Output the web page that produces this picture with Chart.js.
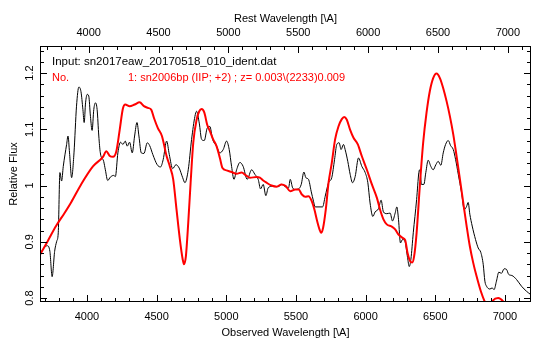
<!DOCTYPE html>
<html>
<head>
<meta charset="utf-8">
<script src="https://cdn.jsdelivr.net/npm/chart.js@4.4.1/dist/chart.umd.min.js"></script>
<style>
  html, body { margin: 0; padding: 0; background: #fff; }
  #wrap { width: 551px; height: 350px; }
</style>
</head>
<body>
<div id="wrap"><canvas id="specChart" width="551" height="350"></canvas></div>
<script>
// observed spectrum (black)
const obsWave = [3661, 3691, 3715, 3734, 3750, 3768, 3783, 3794, 3806, 3818, 3830, 3854, 3864, 3875, 3890, 3907, 3925, 3942, 3957, 3971,
  3980, 3990, 4002, 4013, 4025, 4037, 4049, 4061, 4073, 4085, 4096, 4120, 4132, 4149, 4168, 4192, 4204, 4222, 4241, 4258,
  4275, 4289, 4306, 4325, 4342, 4359, 4373, 4390, 4409, 4433, 4450, 4473, 4504, 4528, 4547, 4572, 4591, 4615, 4639, 4662,
  4687, 4703, 4727, 4751, 4775, 4787, 4806, 4823, 4842, 4863, 4882, 4902, 4930, 4954, 4978, 5002, 5021, 5038, 5055, 5074,
  5098, 5121, 5150, 5182, 5205, 5229, 5246, 5265, 5284, 5301, 5337, 5373, 5397, 5423, 5447, 5459, 5476, 5495, 5519, 5538,
  5557, 5571, 5590, 5609, 5626, 5638, 5691, 5710, 5734, 5757, 5777, 5793, 5810, 5824, 5841, 5853, 5872, 5889, 5906, 5925,
  5949, 5973, 5997, 6016, 6032, 6052, 6068, 6093, 6111, 6128, 6152, 6176, 6193, 6212, 6224, 6236, 6250, 6265, 6282, 6301,
  6313, 6325, 6342, 6366, 6382, 6389, 6401, 6418, 6432, 6449, 6468, 6485, 6504, 6521, 6540, 6557, 6574, 6593, 6610, 6629,
  6646, 6665, 6689, 6708, 6725, 6736, 6748, 6765, 6789, 6808, 6827, 6844, 6856, 6868, 6892, 6908, 6922, 6939, 6956, 6975,
  6994, 7011, 7027, 7051, 7083, 7119, 7155, 7186];
const obsFlux = [0.877, 0.889, 0.893, 0.883, 0.838, 0.883, 0.901, 0.916, 1.023, 1.008, 1.034, 1.073, 1.088, 1.058, 1.014, 1.058, 1.141, 1.175, 1.167, 1.135,
  1.112, 1.147, 1.162, 1.159, 1.123, 1.098, 1.135, 1.147, 1.135, 1.088, 1.058, 1.043, 1.028, 1.009, 1.015, 1.018, 1.016, 1.058, 1.077, 1.073,
  1.079, 1.070, 1.077, 1.058, 1.088, 1.112, 1.088, 1.058, 1.057, 1.076, 1.071, 1.055, 1.037, 1.033, 1.046, 1.079, 1.055, 1.030, 1.037, 1.031,
  1.014, 1.005, 1.028, 1.082, 1.123, 1.132, 1.111, 1.082, 1.080, 1.102, 1.105, 1.082, 1.070, 1.058, 1.064, 1.079, 1.064, 1.034, 1.011, 1.028,
  1.041, 1.034, 1.011, 1.028, 1.020, 1.011, 0.994, 1.002, 0.982, 0.996, 0.999, 0.998, 1.002, 0.998, 0.996, 1.011, 0.996, 0.993, 0.994, 1.002,
  1.024, 1.014, 1.011, 0.990, 0.972, 0.962, 0.962, 0.981, 1.005, 1.014, 1.046, 1.073, 1.076, 1.064, 1.073, 1.064, 1.043, 1.020, 1.005, 1.016,
  1.049, 1.034, 1.023, 1.005, 0.969, 0.945, 0.953, 0.959, 0.974, 0.953, 0.950, 0.951, 0.937, 0.951, 0.962, 0.940, 0.898, 0.904, 0.901, 0.872,
  0.856, 0.869, 0.916, 0.975, 1.023, 1.028, 1.002, 1.002, 1.023, 1.045, 1.034, 1.028, 1.037, 1.043, 1.036, 1.058, 1.073, 1.080, 1.071, 1.064,
  1.046, 1.020, 0.987, 0.957, 0.963, 0.970, 0.949, 0.928, 0.904, 0.889, 0.881, 0.860, 0.830, 0.821, 0.816, 0.818, 0.815, 0.830, 0.846, 0.844,
  0.852, 0.851, 0.842, 0.840, 0.833, 0.821, 0.812, 0.806];

// template sn2006bp (red)
const tplWave = [3656, 3720, 3778, 3836, 3886, 3958, 4043, 4115, 4139, 4162, 4187, 4211, 4235, 4258, 4275, 4306, 4342, 4378, 4409, 4437, 4461, 4481,
  4509, 4538, 4572, 4595, 4619, 4643, 4667, 4687, 4696, 4710, 4727, 4744, 4763, 4787, 4806, 4823, 4842, 4863, 4882, 4906,
  4930, 4954, 4973, 5002, 5038, 5074, 5110, 5141, 5170, 5217, 5241, 5265, 5289, 5325, 5361, 5397, 5427, 5459, 5495, 5519,
  5543, 5567, 5590, 5614, 5633, 5652, 5669, 5680, 5695, 5714, 5734, 5757, 5781, 5805, 5829, 5846, 5865, 5889, 5913, 5944,
  5973, 6009, 6045, 6081, 6104, 6128, 6152, 6188, 6212, 6236, 6265, 6284, 6301, 6318, 6334, 6348, 6366, 6389, 6413, 6437,
  6461, 6485, 6509, 6533, 6557, 6581, 6605, 6629, 6653, 6677, 6701, 6725, 6748, 6772, 6796, 6827, 6856, 6885, 6915, 6951,
  6987, 7020, 7100, 7186];
const tplFlux = [0.874, 0.902, 0.928, 0.950, 0.970, 1.002, 1.034, 1.051, 1.061, 1.053, 1.051, 1.061, 1.099, 1.137, 1.144, 1.141, 1.144, 1.148, 1.141, 1.138, 1.135, 1.120,
  1.102, 1.088, 1.052, 1.034, 1.011, 0.957, 0.904, 0.869, 0.860, 0.874, 0.934, 1.005, 1.076, 1.117, 1.132, 1.136, 1.130, 1.108, 1.097, 1.082,
  1.070, 1.049, 1.031, 1.027, 1.024, 1.021, 1.023, 1.018, 1.014, 1.015, 1.014, 1.009, 1.005, 1.000, 0.998, 1.002, 0.999, 0.990, 0.993, 0.993,
  0.984, 0.980, 0.981, 0.972, 0.957, 0.937, 0.922, 0.916, 0.925, 0.957, 1.005, 1.040, 1.082, 1.105, 1.118, 1.122, 1.117, 1.099, 1.085, 1.073,
  1.052, 1.028, 1.002, 0.978, 0.957, 0.940, 0.931, 0.927, 0.922, 0.913, 0.907, 0.903, 0.880, 0.866, 0.863, 0.874, 0.916, 0.999, 1.076, 1.129,
  1.168, 1.191, 1.199, 1.191, 1.173, 1.150, 1.123, 1.091, 1.052, 1.011, 0.969, 0.928, 0.892, 0.863, 0.839, 0.812, 0.793, 0.780, 0.796, 0.800,
  0.794, 0.780, 0.765, 0.755];

const obsTicks = [4000, 4500, 5000, 5500, 6000, 6500, 7000];
const restTicks = [4000, 4500, 5000, 5500, 6000, 6500, 7000];
const fluxTicks = [0.8, 0.9, 1, 1.1, 1.2];
const redshift = 0.003;

const inputLabel = "Input: sn2017eaw_20170518_010_ident.dat";
const noLabel = "No.";
const matchLabel = "1: sn2006bp (IIP; +2) ; z= 0.003\\(2233)0.009";

const xMin = 3663, xMax = 7187, yMin = 0.793, yMax = 1.248;
const FONT = "'Liberation Sans', Arial, sans-serif";

function toPoints(xs, ys) {
  return xs.map((x, i) => ({ x: x, y: ys[i] }));
}

// IDL-style frame: inward ticks on all four sides, rotated y labels, titles
const framePlugin = {
  id: "frame",
  afterDraw(chart) {
    const ctx = chart.ctx;
    const a = chart.chartArea;
    const sx = chart.scales.x, sx2 = chart.scales.x2, sy = chart.scales.y;
    ctx.save();
    ctx.strokeStyle = "#000";
    ctx.lineWidth = 1;
    ctx.strokeRect(a.left + 0.5, a.top + 0.5, a.right - a.left - 1, a.bottom - a.top - 1);

    ctx.beginPath();
    // bottom (observed)
    for (let w = 3700; w <= 7100; w += 100) {
      const px = Math.round(sx.getPixelForValue(w)) + 0.5;
      const len = w % 500 === 0 ? 7 : 4;
      ctx.moveTo(px, a.bottom);
      ctx.lineTo(px, a.bottom - len);
    }
    // top (rest)
    for (let w = 3700; w <= 7100; w += 100) {
      const px = Math.round(sx2.getPixelForValue(w)) + 0.5;
      if (px < a.left || px > a.right) continue;
      const len = w % 500 === 0 ? 7 : 4;
      ctx.moveTo(px, a.top);
      ctx.lineTo(px, a.top + len);
    }
    // left and right
    for (let k = 40; k <= 62; k++) {
      const v = k * 0.02;
      if (v < yMin || v > yMax) continue;
      const py = Math.round(sy.getPixelForValue(v)) + 0.5;
      const len = k % 5 === 0 ? 7 : 4;
      ctx.moveTo(a.left, py);
      ctx.lineTo(a.left + len, py);
      ctx.moveTo(a.right, py);
      ctx.lineTo(a.right - len, py);
    }
    ctx.stroke();

    // y tick labels, rotated
    ctx.fillStyle = "#000";
    ctx.font = "11px " + FONT;
    ctx.textAlign = "center";
    ctx.textBaseline = "middle";
    fluxTicks.forEach((v) => {
      const py = sy.getPixelForValue(v);
      ctx.save();
      ctx.translate(30, py);
      ctx.rotate(-Math.PI / 2);
      ctx.fillText(String(v), 0, 0);
      ctx.restore();
    });

    // axis titles
    const cx = (a.left + a.right) / 2;
    ctx.fillText("Rest Wavelength [\\A]", cx, 19);
    ctx.fillText("Observed Wavelength [\\A]", cx, 333);
    ctx.save();
    ctx.translate(14, (a.top + a.bottom) / 2);
    ctx.rotate(-Math.PI / 2);
    ctx.fillText("Relative Flux", 0, 0);
    ctx.restore();

    // legend text
    ctx.textAlign = "left";
    ctx.font = "11.5px " + FONT;
    ctx.fillText(inputLabel, 52, 62);
    ctx.font = "11px " + FONT;
    ctx.fillStyle = "#ff0000";
    ctx.fillText(noLabel, 52, 78);
    ctx.fillText(matchLabel, 128, 78);
    ctx.restore();
  }
};

new Chart(document.getElementById("specChart"), {
  type: "scatter",
  data: {
    datasets: [
      {
        label: "sn2017eaw",
        data: toPoints(obsWave, obsFlux),
        showLine: true,
        borderColor: "#000000",
        borderWidth: 1,
        pointRadius: 0,
        cubicInterpolationMode: "monotone",
        clip: 0,
        order: 2
      },
      {
        label: "sn2006bp",
        data: toPoints(tplWave, tplFlux),
        showLine: true,
        borderColor: "#ff0000",
        borderWidth: 2,
        pointRadius: 0,
        cubicInterpolationMode: "monotone",
        clip: 0,
        order: 1
      }
    ]
  },
  options: {
    responsive: false,
    animation: false,
    layout: { padding: { left: 0, right: 20, top: 0, bottom: 0 } },
    plugins: { legend: { display: false }, tooltip: { enabled: false } },
    scales: {
      x: {
        type: "linear",
        position: "bottom",
        min: xMin,
        max: xMax,
        grid: { display: false, drawTicks: false },
        border: { display: false },
        afterBuildTicks: (scale) => { scale.ticks = obsTicks.map((v) => ({ value: v })); },
        afterFit: (scale) => { scale.height = 48; },
        ticks: { color: "#000", font: { family: FONT, size: 11 }, padding: 8, maxRotation: 0, autoSkip: false, callback: (v) => String(v) }
      },
      x2: {
        type: "linear",
        position: "top",
        min: xMin / (1 + redshift),
        max: xMax / (1 + redshift),
        grid: { display: false, drawTicks: false },
        border: { display: false },
        afterBuildTicks: (scale) => { scale.ticks = restTicks.map((v) => ({ value: v })); },
        afterFit: (scale) => { scale.height = 46; },
        ticks: { color: "#000", font: { family: FONT, size: 11 }, padding: 6, maxRotation: 0, autoSkip: false, callback: (v) => String(v) }
      },
      y: {
        type: "linear",
        position: "left",
        min: yMin,
        max: yMax,
        grid: { display: false, drawTicks: false },
        border: { display: false },
        ticks: { display: false },
        afterFit: (scale) => { scale.width = 40; }
      }
    }
  },
  plugins: [framePlugin]
});
</script>
</body>
</html>
